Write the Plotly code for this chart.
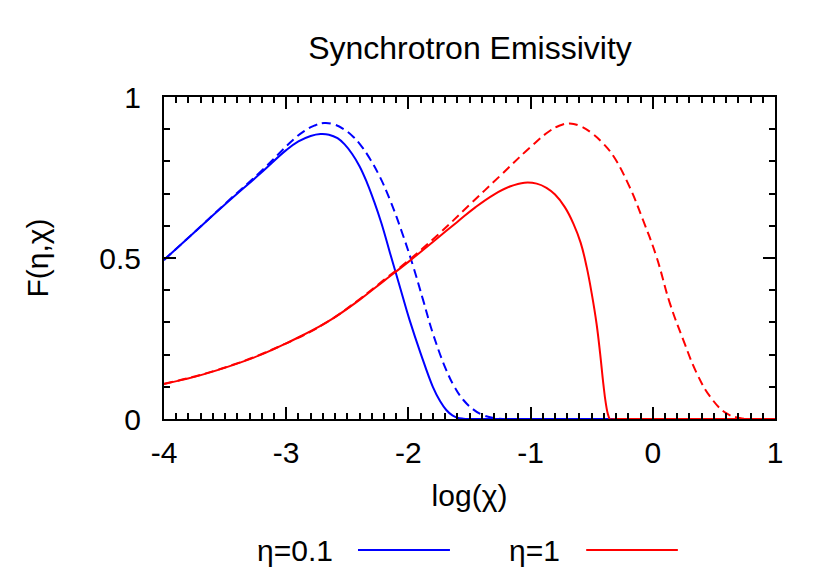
import plotly.graph_objects as go

# log(chi) / F(eta, chi) values
BLUE_X = [-4.0, -3.76, -3.49, -3.21, -3.0, -2.9, -2.8, -2.72, -2.65, -2.58, -2.52,
          -2.46, -2.4, -2.34, -2.28, -2.22, -2.15, -2.07, -1.99, -1.9, -1.8, -1.74,
          -1.69, -1.64, -1.6, -1.55, -1.5, -1.3, -1.0, 1.0]
BLUE_Y = [0.494, 0.577, 0.67, 0.763, 0.835, 0.862, 0.879, 0.885, 0.883, 0.872, 0.852,
          0.823, 0.785, 0.735, 0.675, 0.607, 0.515, 0.411, 0.307, 0.204, 0.10, 0.055,
          0.028, 0.011, 0.004, 0.001, 0.0, 0.0, 0.0, 0.0]

BLUE_CL_X = [-4.0, -3.76, -3.49, -3.21, -2.94, -2.85, -2.77, -2.69, -2.61, -2.53, -2.45,
             -2.38, -2.31, -2.24, -2.15, -2.04, -1.96, -1.88, -1.8, -1.69, -1.62, -1.55,
             -1.47, -1.39, -1.28, -1.15, -1.0, 1.0]
BLUE_CL_Y = [0.494, 0.577, 0.672, 0.768, 0.868, 0.895, 0.911, 0.919, 0.915, 0.9, 0.876,
             0.845, 0.805, 0.757, 0.68, 0.566, 0.473, 0.37, 0.266, 0.152, 0.098, 0.059,
             0.03, 0.012, 0.002, 0.0, 0.0, 0.0]

RED_X = [-4.0, -3.76, -3.48, -3.21, -3.0, -2.67, -2.4, -2.2, -2.0, -1.8, -1.6, -1.45,
         -1.3, -1.17, -1.05, -0.95, -0.87, -0.8, -0.72, -0.65, -0.59, -0.54, -0.5,
         -0.46, -0.43, -0.405, -0.385, -0.365, -0.35, -0.3, 1.0]
RED_Y = [0.109, 0.13, 0.162, 0.199, 0.235, 0.30, 0.37, 0.429, 0.488, 0.55, 0.612, 0.658,
         0.697, 0.722, 0.734, 0.731, 0.718, 0.697, 0.658, 0.607, 0.547, 0.47, 0.39,
         0.295, 0.2, 0.11, 0.05, 0.012, 0.0, 0.0, 0.0]

RED_CL_X = [-4.0, -3.5, -3.0, -2.67, -2.4, -2.2, -2.0, -1.75, -1.5, -1.25, -1.0, -0.85,
            -0.77, -0.68, -0.59, -0.49, -0.4, -0.32, -0.19, -0.08, 0.03, 0.14, 0.25,
            0.36, 0.47, 0.6, 0.71, 0.8, 1.0]
RED_CL_Y = [0.109, 0.16, 0.235, 0.30, 0.372, 0.432, 0.492, 0.575, 0.665, 0.755, 0.845, 0.893,
            0.91, 0.918, 0.909, 0.885, 0.853, 0.815, 0.721, 0.618, 0.504, 0.359, 0.245,
            0.142, 0.069, 0.018, 0.003, 0.0, 0.0]

X_TICKS = [-4, -3, -2, -1, 0, 1]
X_TICK_TEXT = ["-4", "-3", "-2", "-1", "0", "1"]
Y_TICKS = [0, 0.5, 1]
Y_TICK_TEXT = ["0", "0.5", "1"]

LEGEND_LABELS = ["\u03b7=0.1", "\u03b7=1"]
BLUE = "#0000ff"
RED = "#ff0000"
FONT = "Liberation Sans, Arial, sans-serif"
FSIZE = 30

fig = go.Figure()
curves = [
    (BLUE_X, BLUE_Y, BLUE, "solid"),
    (BLUE_CL_X, BLUE_CL_Y, BLUE, "9px,5px"),
    (RED_X, RED_Y, RED, "solid"),
    (RED_CL_X, RED_CL_Y, RED, "9px,5px"),
]
for xs, ys, col, dash in curves:
    fig.add_trace(go.Scatter(
        x=xs, y=ys, mode="lines", showlegend=False,
        line=dict(color=col, width=2, dash=dash, shape="spline", smoothing=1.2),
    ))

axis_common = dict(
    showgrid=False, zeroline=False,
    showline=True, linecolor="black", linewidth=2, mirror="ticks",
    ticks="inside", ticklen=12, tickwidth=2, tickcolor="black",
    tickfont=dict(family=FONT, size=FSIZE, color="black"),
)
fig.update_xaxes(
    range=[-4, 1], tickmode="array", tickvals=X_TICKS, ticktext=X_TICK_TEXT,
    minor=dict(dtick=0.1, tick0=0, ticks="inside", ticklen=6, tickwidth=2,
               tickcolor="black"),
    ticklabelstandoff=6,
    title=dict(text="log(\u03c7)", font=dict(family=FONT, size=FSIZE, color="black"),
               standoff=17),
    **axis_common,
)
fig.update_yaxes(
    range=[0, 1], tickmode="array", tickvals=Y_TICKS, ticktext=Y_TICK_TEXT,
    minor=dict(dtick=0.1, tick0=0, ticks="inside", ticklen=6, tickwidth=2,
               tickcolor="black"),
    ticklabelstandoff=15,
    title=dict(text="F(\u03b7,\u03c7)", font=dict(family=FONT, size=FSIZE, color="black"),
               standoff=42),
    **axis_common,
)

# gnuplot-style key below the plot: label first, then the line sample
legend_y = -0.407
for label, col, x_txt, x0, x1 in [
    (LEGEND_LABELS[0], BLUE, 0.280, 0.3175, 0.468),
    (LEGEND_LABELS[1], RED, 0.651, 0.691, 0.841),
]:
    fig.add_annotation(
        x=x_txt, y=legend_y, xref="paper", yref="paper", text=label,
        showarrow=False, xanchor="right", yanchor="middle",
        font=dict(family=FONT, size=FSIZE, color="black"),
    )
    fig.add_shape(
        type="line", xref="paper", yref="paper", x0=x0, x1=x1,
        y0=legend_y, y1=legend_y, line=dict(color=col, width=2),
    )

fig.update_layout(
    width=822, height=573,
    margin=dict(l=156, r=55, t=89, b=162, autoexpand=False),
    plot_bgcolor="white", paper_bgcolor="white",
    title=dict(text="Synchrotron Emissivity", x=0.562, xanchor="center",
               y=0.930, yanchor="middle",
               font=dict(family=FONT, size=32, color="black")),
    showlegend=False,
)

fig.write_html("out.html")
